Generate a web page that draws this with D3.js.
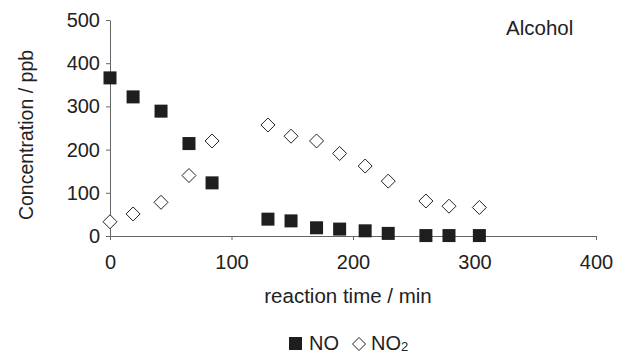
<!DOCTYPE html>
<html>
<head>
<meta charset="utf-8">
<script src="https://cdn.jsdelivr.net/npm/d3@7"></script>
<style>
    body { margin: 0; background: #fff; }
    text { font-family: "Liberation Sans", Arial, sans-serif; fill: #222; }
</style>
</head>
<body>
<div id="chart"></div>
<script>
// 数据
const times = [0, 19, 42, 65, 84, 130, 149, 170, 189, 210, 229, 260, 279, 304];
const noValues = [366, 322, 289, 214, 123, 39, 35, 19, 16, 12, 6, 1, 1, 1];
const no2Values = [33, 51, 78, 140, 220, 257, 231, 220, 191, 162, 127, 81, 69, 66];
const xTicks = [0, 100, 200, 300, 400];
const yTicks = [0, 100, 200, 300, 400, 500];

const width = 617, height = 353;
const margin = { left: 110, top: 20, right: 21, bottom: 117 };
const axisColor = "#666";

const svg = d3.select("#chart").append("svg")
    .attr("width", width)
    .attr("height", height);

const x = d3.scaleLinear().domain([0, 400]).range([margin.left, width - margin.right]);
const y = d3.scaleLinear().domain([0, 500]).range([height - margin.bottom, margin.top]);

// x轴
const xAxis = svg.append("g")
    .attr("transform", "translate(0," + y(0) + ")")
    .call(d3.axisBottom(x).tickValues(xTicks).tickSizeInner(4).tickSizeOuter(0).tickPadding(15));
// y轴
const yAxis = svg.append("g")
    .attr("transform", "translate(" + x(0) + ",0)")
    .call(d3.axisLeft(y).tickValues(yTicks).tickSizeInner(4).tickSizeOuter(0).tickPadding(6));

[xAxis, yAxis].forEach(g => {
    g.selectAll("path, line").attr("stroke", axisColor).attr("stroke-width", 1);
    g.selectAll("text").style("font-size", "20px").attr("fill", "#222");
});

// 坐标轴标题
svg.append("text")
    .attr("x", 348)
    .attr("y", 303)
    .attr("text-anchor", "middle")
    .style("font-size", "20.5px")
    .text("reaction time / min");

svg.append("text")
    .attr("transform", "translate(33,135) rotate(-90)")
    .attr("text-anchor", "middle")
    .style("font-size", "19.5px")
    .text("Concentration / ppb");

svg.append("text")
    .attr("x", 506)
    .attr("y", 35)
    .style("font-size", "20.5px")
    .text("Alcohol");

const diamond = r => "M0," + (-r) + "L" + r + ",0L0," + r + "L" + (-r) + ",0Z";

// NO2 空心菱形
svg.append("g").selectAll("path")
    .data(times)
    .enter()
    .append("path")
    .attr("transform", (d, i) => "translate(" + x(d) + "," + y(no2Values[i]) + ")")
    .attr("d", diamond(7))
    .attr("fill", "#fff")
    .attr("stroke", "#222")
    .attr("stroke-width", 1);

// NO 实心方块
svg.append("g").selectAll("rect")
    .data(times)
    .enter()
    .append("rect")
    .attr("x", d => x(d) - 6.5)
    .attr("y", (d, i) => y(noValues[i]) - 6.5)
    .attr("width", 13)
    .attr("height", 13)
    .attr("fill", "#1e1e1e");

// 图例
const legend = svg.append("g");
legend.append("rect")
    .attr("x", 289).attr("y", 337)
    .attr("width", 13).attr("height", 13)
    .attr("fill", "#1e1e1e");
legend.append("text")
    .attr("x", 309).attr("y", 350)
    .style("font-size", "20px")
    .text("NO");
legend.append("path")
    .attr("transform", "translate(359,344)")
    .attr("d", diamond(6.5))
    .attr("fill", "#fff")
    .attr("stroke", "#222");
const no2Label = legend.append("text")
    .attr("x", 371).attr("y", 350)
    .style("font-size", "20px")
    .text("NO");
no2Label.append("tspan")
    .attr("dy", 1)
    .style("font-size", "13px")
    .text("2");
</script>
</body>
</html>
